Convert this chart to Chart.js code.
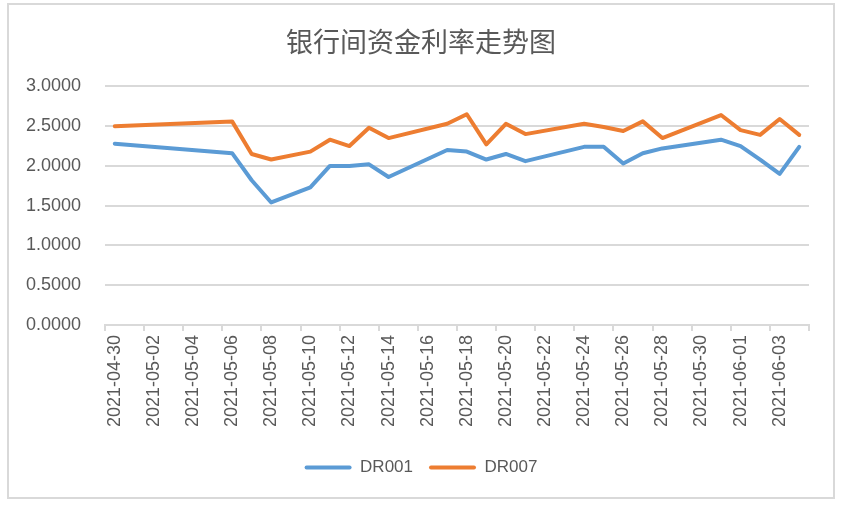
<!DOCTYPE html>
<html>
<head>
<meta charset="utf-8">
<script src="https://cdn.jsdelivr.net/npm/chart.js@4.4.0/dist/chart.umd.min.js"></script>
<style>
  html, body { margin: 0; padding: 0; background: #fff; }
  #wrap { position: relative; width: 842px; height: 508px; }
  #frame {
    position: absolute; left: 7px; top: 3px; width: 828px; height: 496px;
    box-sizing: border-box; border: 2px solid #d9d9d9;
  }
  #myChart { position: absolute; left: 0; top: 0; }
</style>
</head>
<body>
<div id="wrap">
  <div id="frame"></div>
  <canvas id="myChart" width="842" height="508"></canvas>
</div>
<script>
// trading-day data, calendar days without a fixing are null
const dates = [
  "2021-04-30",
  "2021-05-01", "2021-05-02", "2021-05-03", "2021-05-04", "2021-05-05",
  "2021-05-06", "2021-05-07", "2021-05-08", "2021-05-09", "2021-05-10",
  "2021-05-11", "2021-05-12", "2021-05-13", "2021-05-14", "2021-05-15",
  "2021-05-16", "2021-05-17", "2021-05-18", "2021-05-19", "2021-05-20",
  "2021-05-21", "2021-05-22", "2021-05-23", "2021-05-24", "2021-05-25",
  "2021-05-26", "2021-05-27", "2021-05-28", "2021-05-29", "2021-05-30",
  "2021-05-31", "2021-06-01", "2021-06-02", "2021-06-03", "2021-06-04"
];
const dr001 = [
  2.28,
  null, null, null, null, null,
  2.16, 1.82, 1.54, null, 1.73,
  2.00, 2.00, 2.02, 1.86, null,
  null, 2.20, 2.18, 2.08, 2.15,
  2.06, null, null, 2.24, 2.24,
  2.03, 2.16, 2.22, null, null,
  2.33, 2.25, 2.08, 1.90, 2.24
];
const dr007 = [
  2.50,
  null, null, null, null, null,
  2.56, 2.15, 2.08, null, 2.18,
  2.33, 2.25, 2.48, 2.35, null,
  null, 2.53, 2.65, 2.27, 2.53,
  2.40, null, null, 2.53, 2.49,
  2.44, 2.56, 2.35, null, null,
  2.64, 2.45, 2.39, 2.59, 2.39
];
const seriesNames = ["DR001", "DR007"];
const yTicks = [0, 0.5, 1, 1.5, 2, 2.5, 3];

const colors = ["#5b9bd5", "#ed7d31"];
const textColor = "#595959";
const gridColor = "#d9d9d9";
const font = "'Liberation Sans', Arial, sans-serif";

const ctx = document.getElementById("myChart").getContext("2d");

new Chart(ctx, {
  type: "line",
  data: {
    labels: dates,
    datasets: [dr001, dr007].map((vals, i) => ({
      label: seriesNames[i],
      data: vals,
      borderColor: colors[i],
      backgroundColor: colors[i],
      borderWidth: 4,
      pointRadius: 0,
      tension: 0,
      spanGaps: true,
      borderCapStyle: "round",
      borderJoinStyle: "round",
    })),
  },
  options: {
    responsive: false,
    animation: false,
    layout: {
      // symmetric so title and legend stay centred on the page
      padding: { top: 10, left: 17, right: 17, bottom: 22 },
    },
    scales: {
      x: {
        offset: true,
        border: { color: gridColor, width: 2 },
        grid: {
          offset: true,
          drawOnChartArea: false,
          drawTicks: true,
          tickLength: 6,
          lineWidth: 2,
          color: (c) => (c.index === undefined || c.index % 2 === 0 ? gridColor : "rgba(0,0,0,0)"),
        },
        ticks: {
          autoSkip: false,
          maxRotation: 90,
          minRotation: 90,
          padding: 4,
          color: textColor,
          font: { family: font, size: 18 },
          callback: (v, i) => (i % 2 === 0 ? dates[i] : ""),
        },
        afterFit: (scale) => {
          scale.height += 12;
          scale.paddingRight = 33;
        },
      },
      y: {
        min: 0,
        max: 3,
        afterBuildTicks: (scale) => {
          scale.ticks = yTicks.map((v) => ({ value: v }));
        },
        afterFit: (scale) => {
          scale.width = 88;
        },
        border: { display: false },
        grid: { color: gridColor, lineWidth: 2, drawTicks: false },
        ticks: {
          padding: 24,
          color: textColor,
          font: { family: font, size: 18 },
          callback: (v) => Number(v).toFixed(4),
        },
      },
    },
    plugins: {
      title: {
        display: true,
        text: "银行间资金利率走势图",
        color: textColor,
        font: { family: "'Noto Sans CJK SC', sans-serif", size: 27, weight: "normal" },
        padding: { top: 16, bottom: 28 },
      },
      legend: {
        position: "bottom",
        labels: {
          color: textColor,
          font: { family: font, size: 17 },
          boxWidth: 47,
          boxHeight: 4,
          padding: 16,
          useBorderRadius: true,
          borderRadius: 2,
          generateLabels: (chart) =>
            Chart.defaults.plugins.legend.labels.generateLabels(chart).map((l) => ({
              ...l,
              fillStyle: l.strokeStyle,
              lineWidth: 0,
            })),
        },
      },
      tooltip: { enabled: false },
    },
  },
});
</script>
</body>
</html>
